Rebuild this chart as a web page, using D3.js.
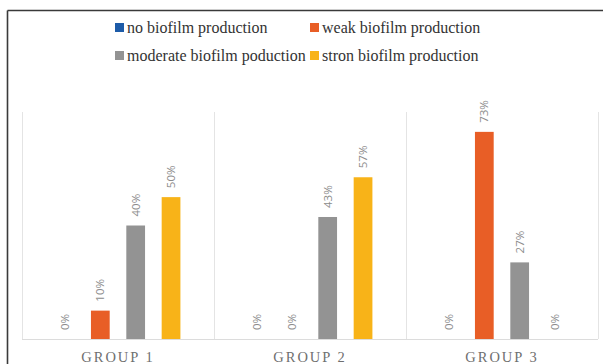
<!DOCTYPE html>
<html>
<head>
<meta charset="utf-8">
<script src="https://cdn.jsdelivr.net/npm/d3@7"></script>
<style>
  html, body { margin: 0; padding: 0; background: #fff; }
  svg { display: block; }
  .serif { font-family: "Liberation Serif", "Times New Roman", "DejaVu Serif", serif; }
</style>
</head>
<body>
<svg id="chart" width="603" height="364"></svg>
<script>
// Biofilm production levels per group (percent of isolates)
const groups = ["GROUP 1", "GROUP 2", "GROUP 3"];
const seriesNames = [
  "no biofilm production",
  "weak biofilm production",
  "moderate biofilm poduction",
  "stron biofilm production"
];
const noBiofilm = [0, 0, 0];
const weakBiofilm = [10, 0, 73];
const moderateBiofilm = [40, 43, 27];
const strongBiofilm = [50, 57, 0];
const seriesColors = ["#1d5ba8", "#e85e26", "#939393", "#f8b318"];

const seriesValues = [noBiofilm, weakBiofilm, moderateBiofilm, strongBiofilm];

const svg = d3.select("#chart");
const W = 603, H = 364;

// outer frame: top and left rules
svg.append("line").attr("x1", 7.5).attr("x2", W).attr("y1", 10.5).attr("y2", 10.5)
  .attr("stroke", "#3a3a3a").attr("stroke-width", 1.6);
svg.append("line").attr("x1", 7.5).attr("x2", 7.5).attr("y1", 10.5).attr("y2", H)
  .attr("stroke", "#3a3a3a").attr("stroke-width", 1.6);

const plot = { left: 22, right: 598, top: 112, bottom: 339 };

const x0 = d3.scaleBand().domain(groups).range([plot.left, plot.right]).padding(0);
const x1 = d3.scaleBand().domain(d3.range(seriesNames.length))
  .range([0, x0.bandwidth()]).paddingInner(0.47).paddingOuter(0.95);
const y = d3.scaleLinear().domain([0, 80]).range([plot.bottom, plot.top]);

// category separators
const g = svg.append("g");
const seps = [plot.left, ...groups.map(d => x0(d) + x0.bandwidth())];
g.selectAll("line.sep").data(seps).join("line")
  .attr("class", "sep")
  .attr("x1", d => Math.round(d) + 0.5).attr("x2", d => Math.round(d) + 0.5)
  .attr("y1", plot.top).attr("y2", plot.bottom)
  .attr("stroke", "#e4e4e4").attr("stroke-width", 1);

// x axis with group labels
const xAxis = g.append("g").attr("transform", `translate(0,${plot.bottom})`)
  .call(d3.axisBottom(x0).tickSize(0).tickPadding(13));
xAxis.attr("font-family", null);
xAxis.select(".domain").attr("stroke", "#dcdcdc").attr("d", `M${plot.left},0.5H${plot.right}`);
xAxis.selectAll("text")
  .attr("class", "serif")
  .attr("font-size", 14.5)
  .attr("letter-spacing", "2px")
  .attr("fill", "#6f6f6f");

// bars and rotated value labels
const rows = groups.map((grp, gi) => ({ grp, vals: seriesValues.map((s, si) => ({ si, v: s[gi] })) }));
const gg = g.selectAll("g.grp").data(rows).join("g")
  .attr("class", "grp")
  .attr("transform", d => `translate(${x0(d.grp)},0)`);

gg.selectAll("rect").data(d => d.vals).join("rect")
  .attr("x", d => x1(d.si))
  .attr("width", x1.bandwidth())
  .attr("y", d => y(d.v))
  .attr("height", d => y(0) - y(d.v))
  .attr("fill", d => seriesColors[d.si]);

gg.selectAll("text.val").data(d => d.vals).join("text")
  .attr("class", "val")
  .attr("transform", d => `translate(${x1(d.si) + x1.bandwidth() / 2 + 4},${y(d.v) - 9}) rotate(-90)`)
  .attr("text-anchor", "start")
  .attr("font-family", "'Open Sans', sans-serif")
  .attr("font-size", 11.5)
  .attr("fill", "#8c8c8c")
  .text(d => d.v + "%");

// legend
const legendPos = [[115, 28], [310, 28], [115, 56], [310, 56]];
const lg = svg.append("g").selectAll("g").data(seriesNames).join("g")
  .attr("transform", (d, i) => `translate(${legendPos[i][0]},${legendPos[i][1]})`);
lg.append("rect").attr("x", 0).attr("y", -5).attr("width", 9).attr("height", 9)
  .attr("fill", (d, i) => seriesColors[i]);
lg.append("text").attr("class", "serif").attr("x", 12).attr("y", 0).attr("dy", "0.33em")
  .attr("font-size", 16)
  .attr("fill", "#333")
  .text(d => d);
</script>
</body>
</html>
